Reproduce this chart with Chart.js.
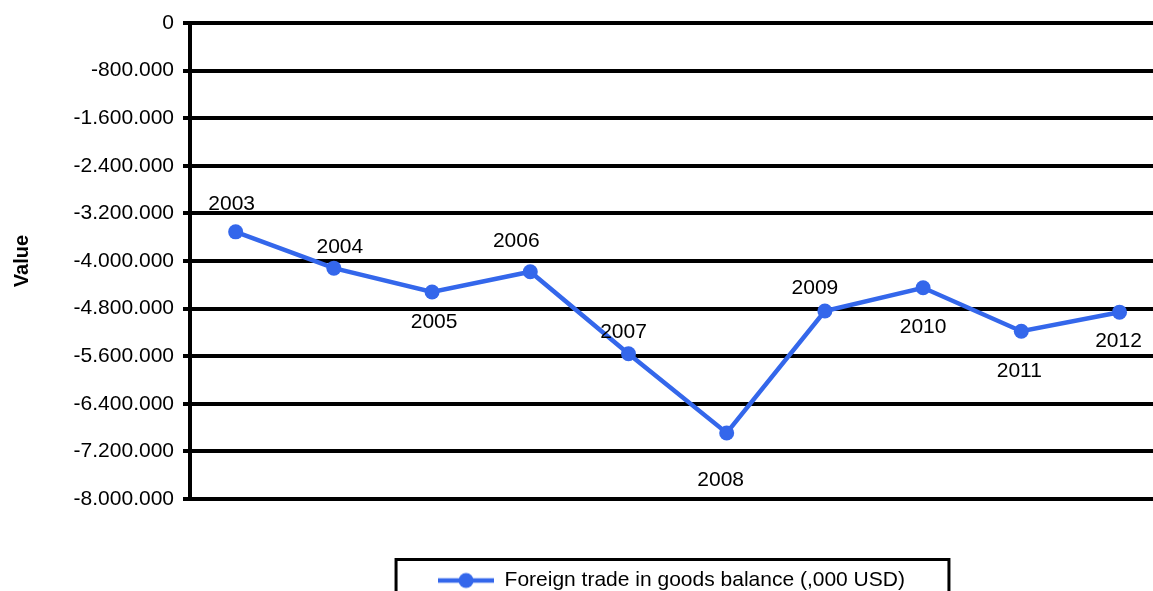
<!DOCTYPE html>
<html>
<head>
<meta charset="utf-8">
<script src="https://cdn.jsdelivr.net/npm/chart.js@4.4.0/dist/chart.umd.min.js"></script>
<style>
  html, body { margin: 0; padding: 0; background: #fff; overflow: hidden; }
  canvas { display: block; }
</style>
</head>
<body>
<canvas id="lineChart" width="1153" height="591"></canvas>
<script>
// data
const years = [2003, 2004, 2005, 2006, 2007, 2008, 2009, 2010, 2011, 2012];
const balance = [-3510000, -4120000, -4520000, -4180000, -5560000, -6890000, -4840000, -4450000, -5180000, -4860000];
const yTicks = [0, -800000, -1600000, -2400000, -3200000, -4000000, -4800000, -5600000, -6400000, -7200000, -8000000];
const seriesName = "Foreign trade in goods balance (,000 USD)";
const axisTitle = "Value";

// where each year label sits relative to its point (dx, dy)
const labelOffsets = [[-4, -28], [6, -21], [2, 30], [-14, -31], [-5, -22], [-6, 47], [-10, -23], [0, 39], [-2, 40], [-1, 29]];

const BLUE = "#3467eb";
const FONT = "'Liberation Sans', Arial, sans-serif";

// 1.600.000 style numbers
function formatNum(v) {
  const s = Math.abs(Math.round(v)).toString().replace(/\B(?=(\d{3})+(?!\d))/g, ".");
  return (v < 0 ? "-" : "") + s;
}

// legend marker: line with a dot
const marker = document.createElement("canvas");
marker.width = 56;
marker.height = 18;
const mctx = marker.getContext("2d");
mctx.strokeStyle = BLUE;
mctx.lineWidth = 4.5;
mctx.beginPath();
mctx.moveTo(0, 9);
mctx.lineTo(56, 9);
mctx.stroke();
mctx.fillStyle = BLUE;
mctx.beginPath();
mctx.arc(28, 9, 7.5, 0, Math.PI * 2);
mctx.fill();

// year labels next to the points
const pointLabels = {
  id: "pointLabels",
  afterDatasetsDraw(chart) {
    const ctx = chart.ctx;
    const meta = chart.getDatasetMeta(0);
    ctx.save();
    ctx.font = "21px " + FONT;
    ctx.fillStyle = "#000";
    ctx.textAlign = "center";
    ctx.textBaseline = "middle";
    meta.data.forEach((pt, i) => {
      const [dx, dy] = labelOffsets[i];
      ctx.fillText(String(years[i]), pt.x + dx, pt.y + dy);
    });
    ctx.restore();
  }
};

// frame around the legend
const legendFrame = {
  id: "legendFrame",
  afterDraw(chart) {
    const hb = chart.legend.legendHitBoxes[0];
    if (!hb) return;
    const ctx = chart.ctx;
    const cy = hb.top + hb.height / 2;
    ctx.save();
    ctx.strokeStyle = "#000";
    ctx.lineWidth = 3;
    ctx.strokeRect(hb.left - 42, cy - 21, hb.width + 86, 80);
    ctx.restore();
  }
};

new Chart(document.getElementById("lineChart").getContext("2d"), {
  type: "line",
  data: {
    datasets: [{
      label: seriesName,
      data: years.map((y, i) => ({ x: y, y: balance[i] })),
      borderColor: BLUE,
      backgroundColor: BLUE,
      borderWidth: 4.5,
      pointRadius: 7.5,
      pointBorderWidth: 0,
      pointBackgroundColor: BLUE,
      tension: 0,
      fill: false,
      clip: false
    }]
  },
  options: {
    responsive: false,
    animation: false,
    layout: { autoPadding: false, padding: { top: 23, right: 0, bottom: -10, left: 0 } },
    plugins: {
      tooltip: { enabled: false },
      legend: {
        position: "bottom",
        fullSize: false,
        labels: {
          usePointStyle: true,
          pointStyleWidth: 56,
          padding: 71,
          color: "#000",
          font: { size: 21, family: FONT },
          generateLabels: () => [{
            text: seriesName,
            pointStyle: marker,
            fillStyle: BLUE,
            strokeStyle: BLUE,
            lineWidth: 0,
            hidden: false,
            datasetIndex: 0,
            fontColor: "#000"
          }]
        }
      }
    },
    scales: {
      x: {
        type: "linear",
        display: false,
        min: 2002.535,
        max: 2012.341
      },
      y: {
        min: yTicks[yTicks.length - 1],
        max: yTicks[0],
        afterBuildTicks: s => { s.ticks = yTicks.map(v => ({ value: v })); },
        afterFit: s => { s.width = 190; },
        grid: { color: "#000", lineWidth: 4, tickLength: 7, drawTicks: true },
        border: { display: true, color: "#000", width: 4 },
        ticks: {
          color: "#000",
          padding: 9,
          font: { size: 21, family: FONT },
          callback: v => formatNum(v)
        },
        title: {
          display: true,
          text: axisTitle,
          color: "#000",
          font: { size: 20, weight: "bold", family: FONT },
          padding: { top: 10, bottom: 0 }
        }
      }
    }
  },
  plugins: [pointLabels, legendFrame]
});
</script>
</body>
</html>
